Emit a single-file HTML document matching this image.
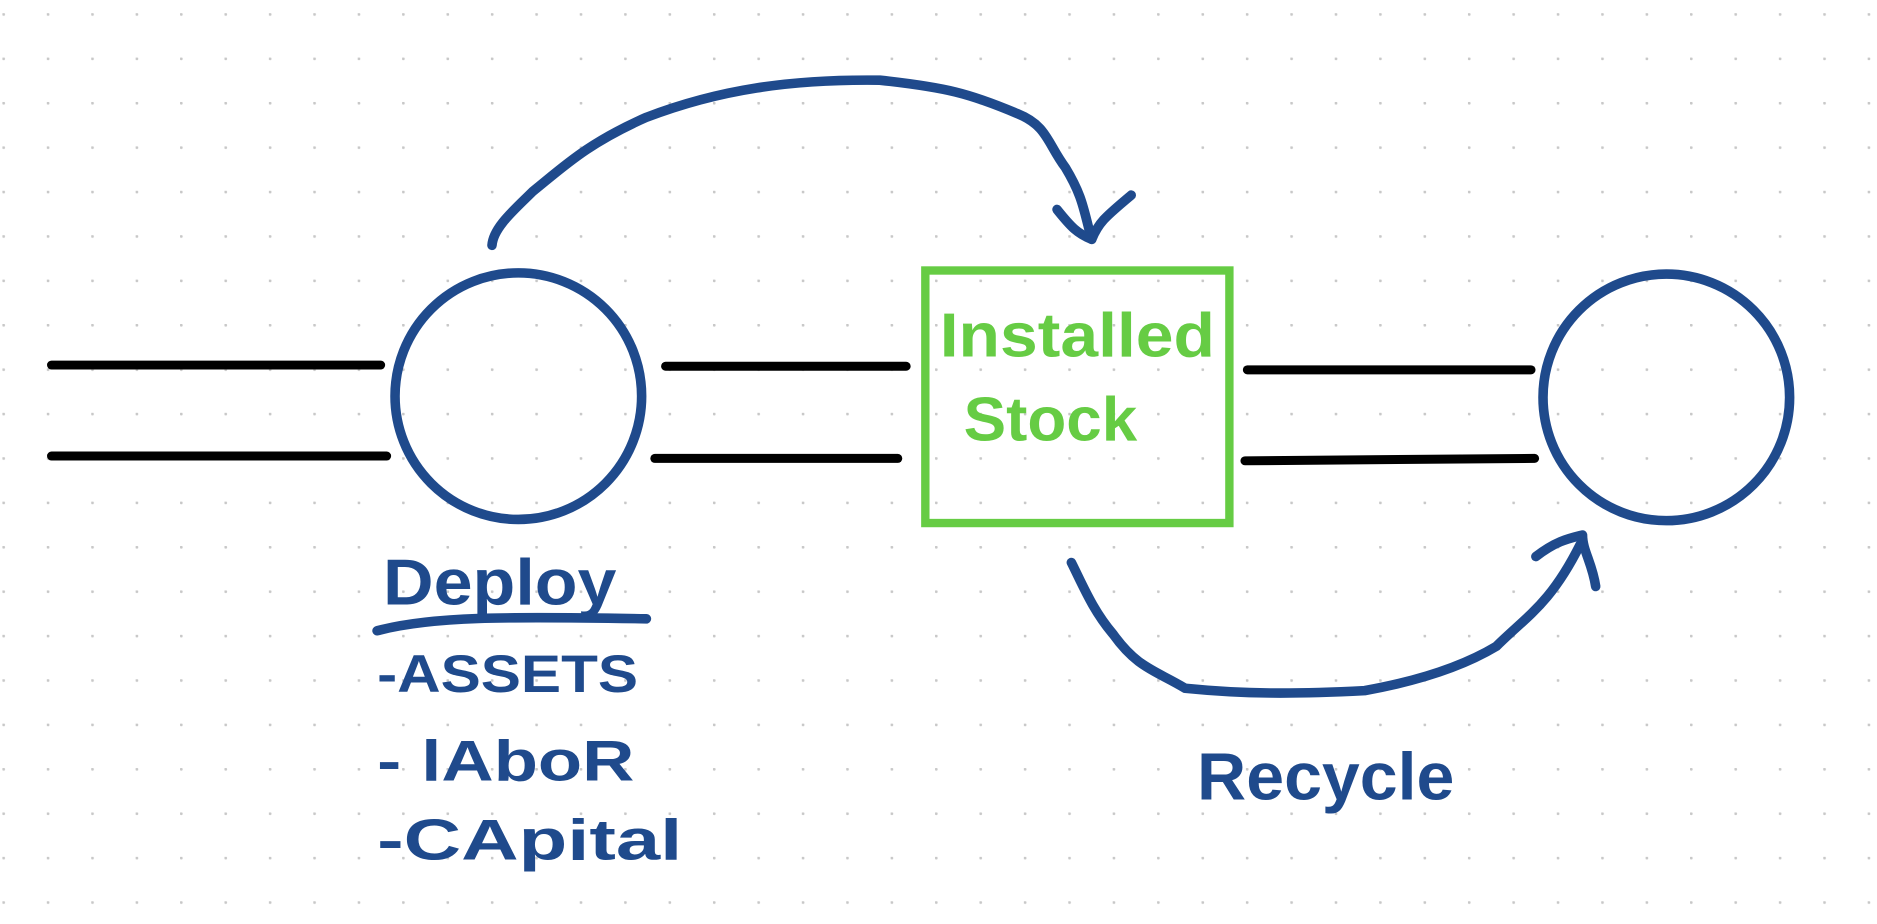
<!DOCTYPE html>
<html><head><meta charset="utf-8"><style>
html,body{margin:0;padding:0;background:#fff;}
svg{display:block}
</style></head><body>
<svg width="1877" height="924" viewBox="0 0 1568 772" preserveAspectRatio="none" xmlns="http://www.w3.org/2000/svg">
<defs>
<pattern id="dots" x="2" y="11" width="37.1" height="37.1" patternUnits="userSpaceOnUse">
<circle cx="1" cy="1" r="1.2" fill="#c8c8c8"/>
</pattern>
</defs>
<rect width="1568" height="772" fill="#fff"/>
<rect width="1568" height="772" fill="url(#dots)"/>
<g stroke="#000" stroke-width="7.5" stroke-linecap="round" fill="none">
<line x1="43" y1="305" x2="318" y2="305"/>
<line x1="43" y1="381" x2="323" y2="381"/>
<line x1="556" y1="306" x2="757" y2="306"/>
<line x1="547" y1="383" x2="750" y2="383"/>
<line x1="1042" y1="309" x2="1279" y2="309"/>
<line x1="1040" y1="385" x2="1282" y2="383"/>
</g>
<g stroke="#1f4a8c" stroke-width="8" fill="none" stroke-linecap="round" stroke-linejoin="round">
<circle cx="433" cy="331" r="103"/>
<circle cx="1392" cy="332" r="103"/>
<path d="M411 205 C412 190 430 175 445 160 C470 140 490 120 540 98 C600 75 660 66 735 67 C790 73 810 78 850 95 C875 105 875 120 890 140 C905 165 905 175 912 200"/>
<path d="M883 175 C895 190 900 195 912 200 C918 185 925 180 945 163"/>
<path d="M895 470 C905 490 913 510 930 530 C950 558 965 560 990 575 C1040 580 1080 580 1140 577 C1190 568 1225 555 1250 540 C1275 515 1295 505 1320 455"/>
<path d="M1283 465 C1300 452 1310 450 1322 447 C1322 460 1330 470 1333 490"/>
<path d="M315 527 C360 515 420 515 540 517"/>
</g>
<rect x="773" y="226" width="254" height="211" fill="none" stroke="#66cc44" stroke-width="7"/>
<g font-family="'Liberation Sans Narrow','Liberation Sans',sans-serif" font-weight="bold" fill="#66cc44">
<text x="785" y="298" font-size="52" textLength="230" lengthAdjust="spacingAndGlyphs">Installed</text>
<text x="805" y="368" font-size="52" textLength="145" lengthAdjust="spacingAndGlyphs">Stock</text>
</g>
<g font-family="'Liberation Sans Narrow','Liberation Sans',sans-serif" font-weight="bold" fill="#1f4a8c">
<text x="320" y="505" font-size="54" textLength="195" lengthAdjust="spacingAndGlyphs">Deploy</text>
<text x="315" y="578" font-size="44" textLength="218" lengthAdjust="spacingAndGlyphs">-ASSETS</text>
<text x="315" y="652" font-size="48" textLength="215" lengthAdjust="spacingAndGlyphs">- lAboR</text>
<text x="315" y="718" font-size="48" textLength="255" lengthAdjust="spacingAndGlyphs">-CApital</text>
<text x="1000" y="668" font-size="56" textLength="215" lengthAdjust="spacingAndGlyphs">Recycle</text>
</g>
</svg>
</body></html>
